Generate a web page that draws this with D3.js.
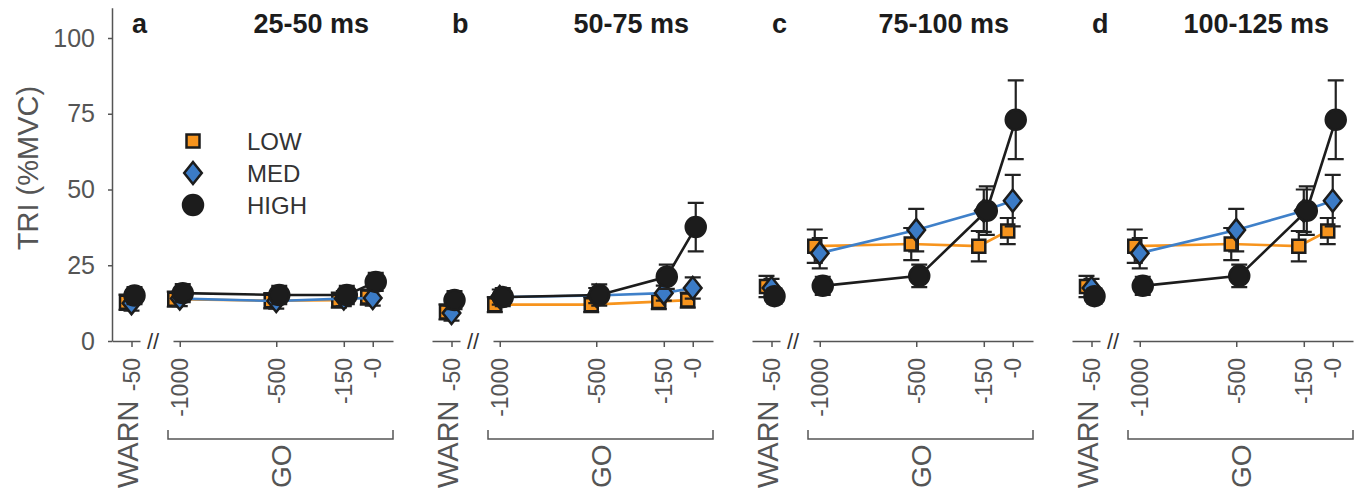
<!DOCTYPE html>
<meta charset="utf-8">
<html>
<head>
<script src="https://d3js.org/d3.v7.min.js"></script>
<style>
    body { margin: 0; background: white; }
    text { font-family: "Liberation Sans", Arial, sans-serif; }
    .axis path, .axis line { stroke: #555; stroke-width: 1.5; }
    .axis text { fill: #555; font-size: 23px; }
</style>
</head>
<body>
<div id="chartsdiv"></div>
<script>

// panel labels
var panelLetters = ["a", "b", "c", "d"];
var panelWindows = ["25-50 ms", "50-75 ms", "75-100 ms", "100-125 ms"];
var levels = ["LOW", "MED", "HIGH"];

// x categories and ticks
var goTimes = [-1000, -500, -150, 0];
var goTickLabels = ["-1000", "-500", "-150", "-0"];
var warnTime = -50;
var warnTickLabel = "-50";
var yTicks = [0, 25, 50, 75, 100];

// WARN means / errors, one value per panel
var lowWarn  = [12.8, 9.6, 18.0, 18.0];
var medWarn  = [12.5, 9.2, 17.5, 17.5];
var highWarn = [15.0, 13.5, 14.8, 14.8];
var lowWarnErr  = [2.5, 2.5, 3.5, 3.5];
var medWarnErr  = [2.5, 2.5, 3.0, 3.0];
var highWarnErr = [2.8, 3.0, 2.5, 2.5];

// GO means / errors, per panel at -1000, -500, -150, 0
var lowGo  = [[13.8, 13.3, 13.5, 14.5], [12.0, 12.0, 13.0, 13.5], [31.3, 32.0, 31.3, 36.3], [31.3, 32.0, 31.3, 36.3]];
var medGo  = [[14.0, 13.2, 14.0, 14.2], [14.5, 15.0, 15.8, 17.5], [29.0, 36.6, 43.0, 46.3], [29.0, 36.6, 43.0, 46.3]];
var highGo = [[15.8, 15.2, 15.2, 19.5], [14.5, 15.2, 21.2, 37.6], [18.2, 21.5, 43.0, 73.0], [18.2, 21.5, 43.0, 73.0]];
var lowGoErr  = [[2.5, 2.5, 2.5, 2.5], [2.5, 2.5, 2.5, 2.5], [5.5, 5.3, 5.0, 4.3], [5.5, 5.3, 5.0, 4.3]];
var medGoErr  = [[2.5, 2.5, 2.5, 2.5], [2.5, 2.5, 2.5, 3.5], [5.0, 7.0, 7.0, 8.5], [5.0, 7.0, 7.0, 8.5]];
var highGoErr = [[3.0, 3.0, 3.0, 3.0], [3.0, 3.5, 4.0, 8.0], [3.0, 3.7, 8.0, 13.0], [3.0, 3.7, 8.0, 13.0]];

var warnMeans = [lowWarn, medWarn, highWarn];
var warnErrs = [lowWarnErr, medWarnErr, highWarnErr];
var goMeans = [lowGo, medGo, highGo];
var goErrs = [lowGoErr, medGoErr, highGoErr];

var fills = {LOW: "#f7941d", MED: "#3b7bc6", HIGH: "#1c1c1c"};
var lineColors = {LOW: "#f7941d", MED: "#3f80c9", HIGH: "#1c1c1c"};
var jitter = {LOW: -5, MED: 0, HIGH: 3};   // small horizontal offset per level

var svg = d3.select("#chartsdiv")
    .append("svg")
        .attr("width", 1365)
        .attr("height", 498);

// scales (x scales are in panel coordinates)
var y = d3.scaleLinear().domain([0, 110]).range([341, 7.7]);
var warnX = d3.scaleLinear().domain([-151, -6]).range([0, 28]);
var goX = d3.scaleLinear().domain([-1035, 105]).range([61, 281]);
var panelX = d3.scaleLinear().domain([0, 1]).range([112, 432]);

function markerPath(lev) {
    if (lev == "LOW") return "M-6.5,-6.5H6.5V6.5H-6.5Z";
    if (lev == "MED") return "M0,-11L8.8,0L0,11L-8.8,0Z";
    return d3.symbol(d3.symbolCircle, Math.PI * 100)();
}

function errPath(d) {
    var t = y(d.v + d.e), b = y(d.v - d.e);
    return "M" + (d.x - 8) + "," + t + "H" + (d.x + 8) +
        "M" + d.x + "," + t + "V" + b +
        "M" + (d.x - 8) + "," + b + "H" + (d.x + 8);
}

function rotateTicks(sel) {
    sel.selectAll("text")
        .attr("transform", "rotate(-90)")
        .attr("x", -17)
        .attr("y", 0)
        .attr("dy", "0.35em")
        .attr("font-size", null)
        .style("text-anchor", "end");
}

// y axis only on first panel
var axisY = svg.append("g")
    .attr("class", "axis")
    .attr("transform", "translate(112,0)")
    .call(d3.axisLeft(y).tickValues(yTicks).tickSize(4).tickSizeOuter(0).tickPadding(13));
axisY.selectAll("text").attr("font-size", null).style("font-size", "25px");

svg.append("text")
    .attr("transform", "translate(38,168) rotate(-90)")
    .attr("text-anchor", "middle")
    .style("font-size", "29px")
    .style("fill", "#555")
    .text("TRI (%MVC)");

panelLetters.forEach(function(letter, p) {
    var left = panelX(p);
    var g = svg.append("g").attr("transform", "translate(" + left + ",0)");

    // broken x axis: WARN piece, "//", GO piece
    var wAx = g.append("g").attr("class", "axis").attr("transform", "translate(0,341)")
        .call(d3.axisBottom(warnX).tickValues([warnTime]).tickFormat(function() { return warnTickLabel; })
            .tickSize(6).tickSizeOuter(0));
    rotateTicks(wAx);
    var gAx = g.append("g").attr("class", "axis").attr("transform", "translate(0,341)")
        .call(d3.axisBottom(goX).tickValues(goTimes).tickFormat(function(d, i) { return goTickLabels[i]; })
            .tickSize(6).tickSizeOuter(0));
    rotateTicks(gAx);

    g.append("text")
        .attr("x", 41).attr("y", 341).attr("dy", "0.35em")
        .attr("text-anchor", "middle")
        .style("font-size", "22px").style("fill", "#333")
        .text("//");

    // GO bracket and group labels
    g.append("path")
        .attr("d", "M56,430V439H281V430")
        .style("fill", "none").style("stroke", "#555").style("stroke-width", 1.5);
    g.append("text")
        .attr("transform", "translate(" + ((56 + 281) / 2) + ",488) rotate(-90)")
        .attr("dy", "0.36em")
        .style("font-size", "28px").style("fill", "#555")
        .text("GO");
    g.append("text")
        .attr("transform", "translate(15.5,488) rotate(-90)")
        .attr("dy", "0.36em")
        .style("font-size", "29px").style("fill", "#555")
        .text("WARN");

    // titles
    g.append("text").attr("x", 20).attr("y", 33)
        .style("font-size", "27px").style("font-weight", "bold").style("fill", "#1c1c1c")
        .text(letter);
    g.append("text").attr("x", 257).attr("y", 33).attr("text-anchor", "end")
        .style("font-size", "27px").style("font-weight", "bold").style("fill", "#1c1c1c")
        .text(panelWindows[p]);

    // series: error bars, line, markers
    levels.forEach(function(lev, k) {
        var warnPt = {x: warnX(warnTime) + jitter[lev], v: warnMeans[k][p], e: warnErrs[k][p]};
        var goPts = goTimes.map(function(t, i) {
            return {x: goX(t) + jitter[lev], v: goMeans[k][p][i], e: goErrs[k][p][i]};
        });
        var pts = [warnPt].concat(goPts);

        g.selectAll(null)
            .data(pts).join("path")
            .attr("d", errPath)
            .style("fill", "none").style("stroke", "#222").style("stroke-width", 2.2);

        g.append("path")
            .datum(goPts)
            .attr("d", d3.line().x(function(d) { return d.x; }).y(function(d) { return y(d.v); }))
            .style("fill", "none").style("stroke", lineColors[lev]).style("stroke-width", 2.6);

        g.selectAll(null)
            .data(pts).join("path")
            .attr("transform", function(d) { return "translate(" + d.x + "," + y(d.v) + ")"; })
            .attr("d", markerPath(lev))
            .style("fill", fills[lev]).style("stroke", "#1c1c1c").style("stroke-width", 2.5);
    });
});

// legend inside panel a
var legY = d3.scalePoint().domain(levels).range([141, 205]);
var leg = svg.append("g").attr("transform", "translate(" + panelX(0) + ",0)");
levels.forEach(function(lev) {
    leg.append("path")
        .attr("transform", "translate(81," + legY(lev) + ")")
        .attr("d", markerPath(lev))
        .style("fill", fills[lev]).style("stroke", "#1c1c1c").style("stroke-width", 2.5);
    leg.append("text")
        .attr("x", 135).attr("y", legY(lev)).attr("dy", "0.36em")
        .style("font-size", "24px").style("fill", "#333")
        .text(lev);
});

</script>
</body>
</html>
